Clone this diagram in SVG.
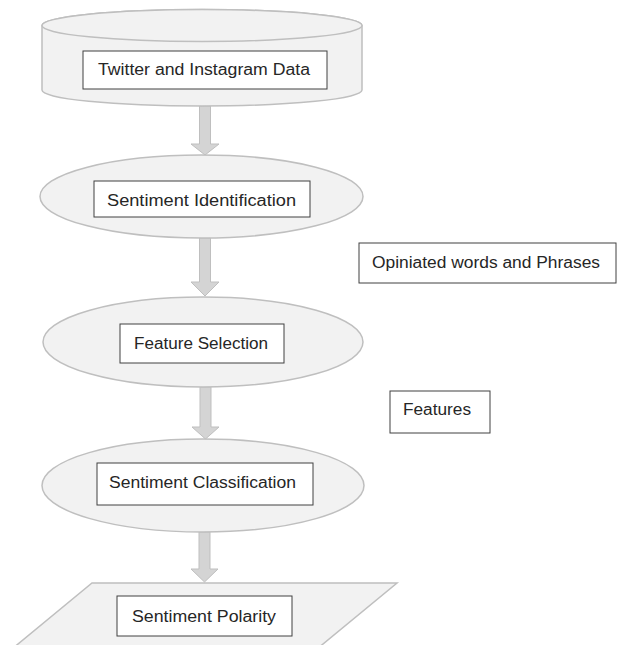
<svg xmlns="http://www.w3.org/2000/svg" width="618" height="645" viewBox="0 0 618 645">
<style>
.shape{fill:#f2f2f2;stroke:#bfbfbf;stroke-width:1.5}
.box{fill:#ffffff;stroke:#404040;stroke-width:1}
.lbl{font-family:"Liberation Sans",Arial,sans-serif;font-size:16px;fill:#262626;text-anchor:middle}
.arrow{fill:#d4d4d4;stroke:#bfbfbf;stroke-width:1}
</style>
<rect x="0" y="0" width="618" height="645" fill="#ffffff"/>
<g id="connectors">
<path class="arrow" d="M199.5,106 H210.5 V144 H219 L205,155 L191,144 H199.5 Z"/>
<path class="arrow" d="M199.5,238 H210.5 V282 H219 L205,296 L191,282 H199.5 Z"/>
<path class="arrow" d="M200,387 H211 V427 H219 L205.5,439 L192,427 H200 Z"/>
<path class="arrow" d="M199,532 H210 V569 H218 L204.5,582 L191,569 H199 Z"/>
</g>
<g id="twitter-data">
<path class="shape" d="M42,25.5 V90 A160,16 0 0 0 362,90 V25.5 A160,16 0 0 0 42,25.5 Z"/>
<ellipse class="shape" cx="202" cy="25.5" rx="160" ry="16"/>
<rect class="box" x="83" y="51" width="244" height="38"/>
<text class="lbl" x="204" y="75" textLength="212" lengthAdjust="spacingAndGlyphs">Twitter and Instagram Data</text>
</g>
<g id="sentiment-identification">
<ellipse class="shape" cx="201.5" cy="196.5" rx="161.5" ry="41.5"/>
<rect class="box" x="94" y="181" width="216" height="36"/>
<text class="lbl" x="201.5" y="205.5" textLength="189" lengthAdjust="spacingAndGlyphs">Sentiment Identification</text>
</g>
<g id="feature-selection">
<ellipse class="shape" cx="203" cy="342" rx="160" ry="45"/>
<rect class="box" x="120" y="324" width="164" height="39"/>
<text class="lbl" x="201" y="349" textLength="134" lengthAdjust="spacingAndGlyphs">Feature Selection</text>
</g>
<g id="sentiment-classification">
<ellipse class="shape" cx="203" cy="485.5" rx="161" ry="46.5"/>
<rect class="box" x="97" y="463" width="216" height="42"/>
<text class="lbl" x="202.5" y="488" textLength="187" lengthAdjust="spacingAndGlyphs">Sentiment Classification</text>
</g>
<g id="sentiment-polarity">
<polygon class="shape" points="92,583 397,583 300,663 -5,663"/>
<rect class="box" x="117" y="596" width="175" height="40"/>
<text class="lbl" x="204" y="622" textLength="144" lengthAdjust="spacingAndGlyphs">Sentiment Polarity</text>
</g>
<g id="opiniated-words">
<rect class="box" x="359" y="243" width="257" height="40"/>
<text class="lbl" x="486" y="268" textLength="228" lengthAdjust="spacingAndGlyphs">Opiniated words and Phrases</text>
</g>
<g id="features">
<rect class="box" x="390" y="391" width="100" height="42"/>
<text class="lbl" x="437" y="415" textLength="68" lengthAdjust="spacingAndGlyphs">Features</text>
</g>
</svg>
